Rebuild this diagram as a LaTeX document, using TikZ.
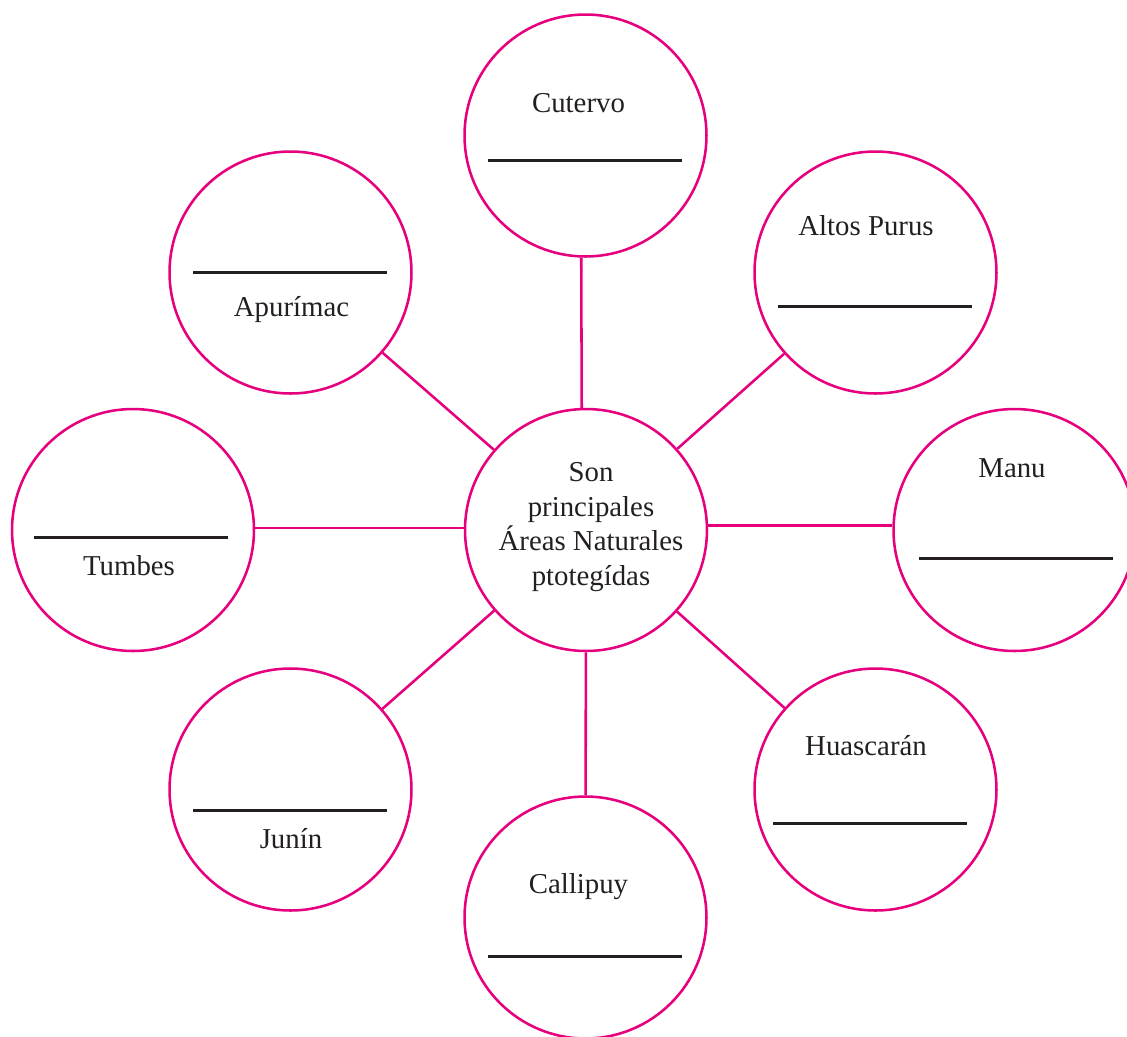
\documentclass[tikz,border=0pt]{standalone}
\usepackage{fontspec}
\setmainfont{Liberation Serif}
\usetikzlibrary{positioning}
\definecolor{rosa}{RGB}{230,0,126}
\definecolor{tinta}{RGB}{35,31,32}
\begin{document}
\begin{tikzpicture}[x=0.02cm, y=-0.02cm, line width=1.45pt, main node/.style={circle,draw=rosa,minimum size=4.84cm,inner sep=0pt}, blank/.style={draw=tinta,line width=1.7pt}]%px coords
\useasboundingbox (0,0) rectangle (1127,1036);
\clip (0,0) rectangle (1127,1036);
\begin{scope}[every node/.style={text=tinta,font=\fontsize{16.4}{19.6}\selectfont}]
\node[main node] (son) at (586,530) {};
\node[main node] (cut) at (585.5,135.5) {};
\node[main node] (alt) at (875.5,272.5) {};
\node[main node] (apu) at (290.5,272.5) {};
\node[main node] (tum) at (133,530) {};
\node[main node] (man) at (1014.5,530) {};
\node[main node] (jun) at (290.5,789.5) {};
\node[main node] (hua) at (875.5,789.5) {};
\node[main node] (cal) at (585.5,917.5) {};
\node[align=center] (tson) at (591,527) {Son\\principales\\Áreas Naturales\\ptotegídas};
\node[anchor=base] (tcut) at (578.5,112) {Cutervo};
\node[anchor=base] (talt) at (866,235) {Altos Purus};
\node[anchor=base] (tapu) at (291.5,316) {Apurímac};
\node[anchor=base] (ttum) at (129,575) {Tumbes};
\node[anchor=base] (tman) at (1012,477) {Manu};
\node[anchor=base] (tjun) at (291,848) {Junín};
\node[anchor=base] (thua) at (866,755) {Huascarán};
\node[anchor=base] (tcal) at (578.5,893) {Callipuy};
\end{scope}
\begin{scope}[rosa]
\draw (son.92) edge (cut.268);
\draw (son) edge (alt);
\draw (son) edge (apu);
\draw (son.179) edge (tum.1);
\draw (son.2) edge (man.178);
\draw (son) edge (jun);
\draw (son) edge (hua);
\draw (son) edge (cal);
\end{scope}
\draw[blank] (488,160) -- (682,160);
\draw[blank] (193,272) -- (387,272);
\draw[blank] (778,306) -- (972,306);
\draw[blank] (34,537) -- (228,537);
\draw[blank] (919,558) -- (1113,558);
\draw[blank] (193,810) -- (387,810);
\draw[blank] (773,823) -- (967,823);
\draw[blank] (488,956) -- (682,956);
\end{tikzpicture}
\end{document}
